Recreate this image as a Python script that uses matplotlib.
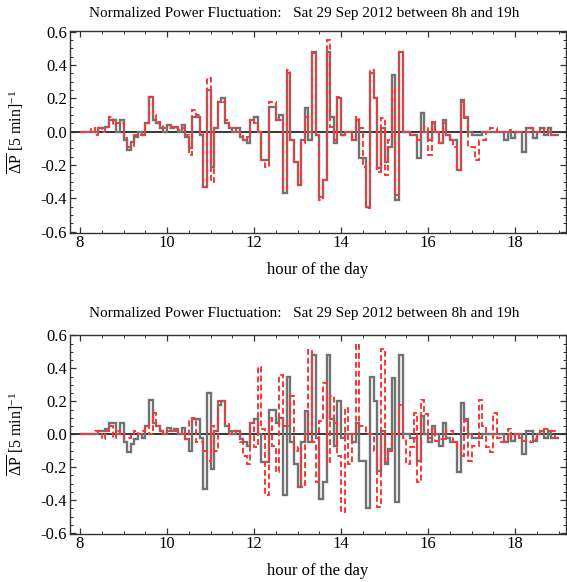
import numpy as np
import matplotlib
matplotlib.use("Agg")
import matplotlib.pyplot as plt
from matplotlib.ticker import MultipleLocator, FormatStrFormatter

plt.rcParams['font.family'] = ['Liberation Serif', 'DejaVu Serif']
plt.rcParams['mathtext.fontset'] = 'custom'
plt.rcParams['mathtext.rm'] = 'Liberation Serif'
plt.rcParams['mathtext.it'] = 'Liberation Serif:italic'

# ---- data: 5-minute normalized power fluctuations, 8h .. 19h ----
start_hour = 8.0
step_hours = 5.0 / 60.0

measured = [0, 0, 0, 0, 0, 0.02, 0.02, 0.03, 0.07, 0.07,
            0.0, 0.07, -0.05, -0.11, -0.06, -0.03, 0.0, -0.02, 0.05, 0.21,
            0.07, 0.05, 0.02, 0.0, 0.04, 0.02, 0.03, 0.0, 0.04, -0.03,
            -0.10, 0.09, 0.09, -0.02, -0.33, 0.25, -0.21, 0.02, 0.18, 0.20,
            0.05, 0.02, 0.0, 0.02, -0.03, -0.05, -0.07, 0.07, 0.09, 0.0,
            -0.17, -0.17, 0.15, 0.15, 0.07, 0.10, -0.37, 0.35, -0.05, -0.18,
            -0.32, -0.05, 0.14, -0.05, 0.48, -0.02, -0.39, -0.29, 0.48, 0.09,
            -0.07, 0.20, -0.02, 0.0, 0.0, -0.05, 0.07, -0.16, -0.16, -0.45,
            0.35, 0.20, -0.22, 0.02, -0.18, -0.09, 0.34, -0.41, 0.48, 0.0,
            0.0, -0.02, -0.02, -0.16, 0.11, 0.0, -0.05, 0.05, 0.0, -0.07,
            0.07, -0.02, -0.05, -0.05, -0.23, 0.19, 0.09, 0.0, -0.02, -0.02,
            -0.02, 0.0, 0.0, 0.0, 0.0, 0.0, 0.0, -0.05, 0.0, -0.04,
            0.0, 0.0, -0.12, 0.02, 0.02, -0.04, 0.0, 0.02, -0.02, 0.02,
            -0.02, -0.02]

model_top = [0, 0, 0, 0.02, -0.02, 0.02, 0.0, 0.03, 0.09, 0.04,
             0.05, 0.05, -0.04, -0.09, -0.09, -0.02, -0.02, -0.02, 0.05, 0.21,
             0.10, 0.06, 0.04, 0.02, 0.02, 0.03, 0.02, 0.01, 0.02, -0.02,
             -0.14, 0.13, 0.10, -0.01, -0.33, 0.32, -0.30, 0.02, 0.18, 0.18,
             0.07, 0.02, 0.02, 0.0, -0.02, -0.05, -0.03, 0.07, 0.05, 0.0,
             -0.17, -0.21, 0.18, 0.18, 0.07, 0.07, -0.35, 0.37, -0.05, -0.18,
             -0.32, -0.07, 0.09, 0.0, 0.47, -0.02, -0.41, -0.29, 0.55, 0.03,
             -0.05, 0.21, -0.02, 0.0, 0.0, -0.05, 0.09, 0.02, -0.21, -0.46,
             0.37, 0.20, -0.24, 0.08, -0.26, -0.05, 0.26, -0.38, 0.48, 0.0,
             0.0, -0.02, -0.02, -0.05, 0.0, 0.03, -0.14, 0.06, 0.0, -0.07,
             0.05, -0.02, -0.05, -0.09, -0.23, 0.18, 0.08, -0.09, -0.09, -0.17,
             -0.05, -0.05, 0.0, 0.02, 0.02, 0.0, 0.0, 0.0, 0.01, 0.0,
             0.0, 0.0, 0.0, 0.0, 0.02, 0.0, 0.0, 0.0, 0.02, 0.0,
             -0.02, -0.02]

model_bottom = [0, 0, 0, 0, 0.02, 0.02, -0.03, 0.02, 0.05, -0.02,
                0.02, 0.0, -0.02, -0.02, 0.0, 0.02, 0.0, 0.02, 0.05, 0.0,
                0.13, 0.05, 0.02, 0.0, 0.02, 0.02, 0.02, 0.0, 0.0, -0.03,
                0.08, 0.10, -0.05, -0.05, -0.10, -0.16, 0.05, -0.10, 0.20, 0.20,
                0.07, 0.0, 0.02, 0.02, -0.05, -0.13, -0.18, 0.07, -0.08, 0.41,
                0.03, -0.37, 0.10, -0.07, -0.23, 0.36, 0.05, 0.05, 0.23, -0.10,
                -0.08, -0.32, 0.0, 0.51, -0.05, -0.29, 0.08, 0.31, -0.18, 0.23,
                0.07, -0.13, -0.47, 0.16, -0.18, 0.0, 0.55, 0.05, 0.05, 0.0,
                0.0, -0.10, -0.44, 0.52, -0.17, -0.10, 0.0, 0.0, 0.18, -0.02,
                -0.18, -0.08, 0.13, -0.29, 0.21, 0.12, -0.02, 0.03, -0.04, -0.03,
                -0.03, 0.02, 0.02, -0.05, -0.08, -0.13, 0.08, -0.16, -0.07, -0.07,
                0.21, 0.05, -0.08, -0.11, 0.13, -0.02, -0.05, -0.04, 0.03, -0.02,
                0.0, -0.02, -0.04, -0.04, -0.05, -0.03, 0.0, 0.02, 0.03, 0.03,
                0.02, -0.02]

x_ticks = [8, 10, 12, 14, 16, 18]
y_ticks = [-0.6, -0.4, -0.2, 0.0, 0.2, 0.4, 0.6]
title_text = "Normalized Power Fluctuation:   Sat 29 Sep 2012 between 8h and 19h"
y_label = r'$\overline{\Delta\mathrm{P}}$ [5 min]$^{-1}$'
x_label = 'hour of the day'

edges = start_hour + step_hours * np.arange(len(measured) + 1)

W, H = 567, 582
fig = plt.figure(figsize=(W / 100, H / 100), dpi=100)

def px_axes(left, top, right, bottom):
    return fig.add_axes([left / W, 1 - bottom / H, (right - left) / W, (bottom - top) / H])

ax1 = px_axes(70, 31, 566, 232.5)
ax2 = px_axes(70, 334.5, 566, 534)

panels = ((ax1, model_top, 13, 270), (ax2, model_bottom, 314, 571))
for ax, red, ty, xl_y in panels:
    ax.axhline(0, color='black', lw=1.1, zorder=1)
    ax.stairs(measured, edges, baseline=None, color='#727272', lw=1.7, zorder=2)
    ax.stairs(red, edges, baseline=None, color='#ff3535', lw=1.4,
              linestyle=(0, (3.0, 1.6)), zorder=3)
    ax.set_xlim(7.77, 19.17)
    ax.set_ylim(-0.605, 0.605)
    ax.set_xticks(x_ticks)
    ax.set_yticks(y_ticks)
    ax.xaxis.set_minor_locator(MultipleLocator(0.5))
    ax.yaxis.set_minor_locator(MultipleLocator(0.05))
    ax.yaxis.set_major_formatter(FormatStrFormatter('%.1f'))
    ax.tick_params(which='both', direction='in', top=True, right=True,
                   labelsize=12, color='#333333')
    ax.tick_params(which='major', length=4.3, width=0.9, pad=2)
    ax.tick_params(which='minor', length=2.3, width=0.7)
    ax.tick_params(axis='x', which='major', pad=1.5)
    for s in ax.spines.values():
        s.set_color('#333333')
        s.set_linewidth(1.0)
    pos = ax.get_position()
    ax.set_ylabel(y_label, fontsize=11.5)
    ax.yaxis.set_label_coords((26 - 70) / (pos.width * W), 0.5)
    ax.set_xlabel(x_label, fontsize=12)
    y_fig = 1 - xl_y / H
    ax.xaxis.set_label_coords(0.5, (y_fig - pos.y0) / pos.height)
    ax.xaxis.label.set_va('center')
    fig.text(304 / W, 1 - ty / H, title_text, ha='center', va='center', fontsize=11)

fig.savefig('out.png', dpi=100)
